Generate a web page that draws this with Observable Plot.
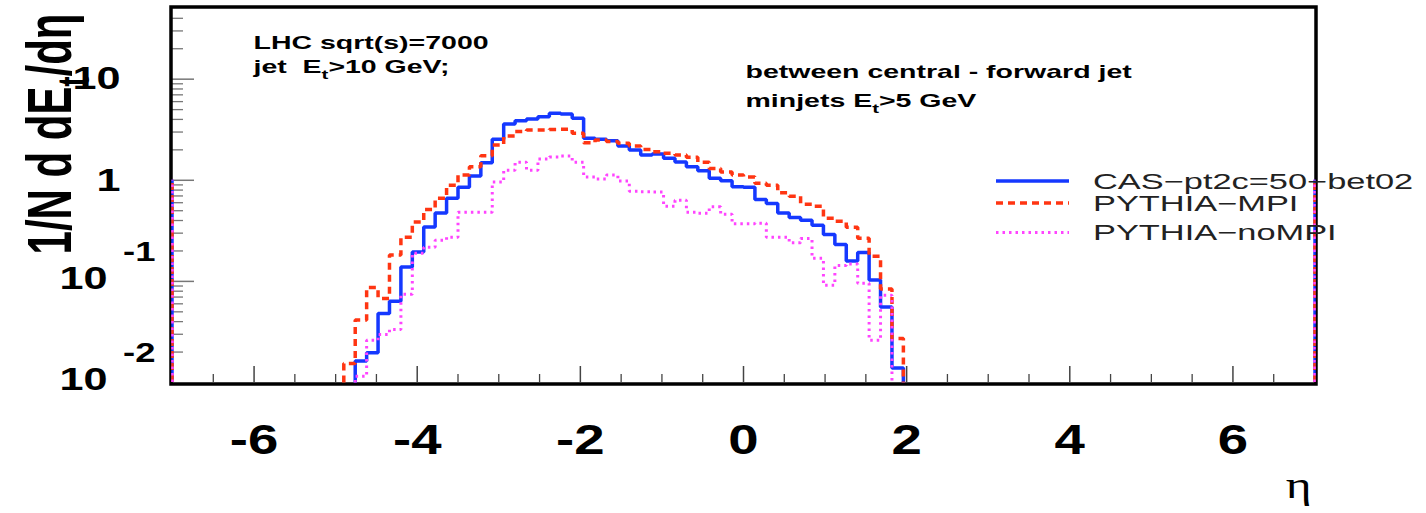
<!DOCTYPE html>
<html>
<head>
<meta charset="utf-8">
<script src="https://cdn.jsdelivr.net/npm/d3@7"></script>
<script src="https://cdn.jsdelivr.net/npm/@observablehq/plot@0.6"></script>
<style>
html, body { margin: 0; padding: 0; background: #fff; }
#wrap { position: relative; width: 1426px; height: 513px; overflow: hidden; }
</style>
</head>
<body>
<div id="wrap"></div>
<script>
// ---------------- data ----------------
// lower edges of the eta bins (bin width 0.14), last upper edge separately
const etaLow = [-4.90,-4.76,-4.62,-4.48,-4.34,-4.20,-4.06,-3.92,-3.78,-3.64,-3.50,-3.36,-3.22,-3.08,-2.94,-2.80,-2.66,-2.52,-2.38,-2.24,-2.10,-1.96,-1.82,-1.68,-1.54,-1.40,-1.26,-1.12,-0.98,-0.84,-0.70,-0.56,-0.42,-0.28,-0.14,0.00,0.14,0.28,0.42,0.56,0.70,0.84,0.98,1.12,1.26,1.40,1.54,1.68,1.82];
const etaLastHigh = 1.96;

const casPt2c = [null,0.0163,0.0197,0.048,0.0636,0.139,0.195,0.346,0.476,0.663,0.851,1.10,1.49,2.54,3.61,3.89,4.04,4.26,4.60,4.53,4.10,2.60,2.54,2.46,2.18,1.99,1.78,1.82,1.65,1.52,1.36,1.24,1.05,0.989,0.863,0.851,0.647,0.590,0.476,0.429,0.403,0.360,0.291,0.232,0.159,0.193,0.103,0.0557,0.0139];
const pythiaMPI = [0.0154,0.0416,0.0869,0.0679,0.182,0.274,0.386,0.515,0.663,0.895,1.13,1.36,1.75,2.23,2.74,3.03,3.14,3.14,3.18,3.19,2.92,2.35,2.50,2.42,2.32,2.18,2.02,1.92,1.85,1.78,1.69,1.51,1.31,1.21,1.13,1.08,0.932,0.895,0.752,0.697,0.581,0.555,0.422,0.394,0.344,0.267,0.177,0.0841,0.0273];
const pythiaNoMPI = [null,0.0115,0.0261,0.0299,0.0335,0.0745,0.190,0.218,0.255,0.274,0.484,0.484,0.484,0.960,1.26,1.51,1.26,1.62,1.70,1.74,1.51,1.08,1.03,1.13,0.982,0.781,0.772,0.764,0.555,0.636,0.484,0.473,0.546,0.462,0.372,0.372,0.376,0.274,0.274,0.241,0.266,0.169,0.0915,0.144,0.149,0.0958,0.0261,0.0728,null];

// value reached by every histogram at the outer frame edges
const edgeEta = [-7, 7];
const edgeTop = [1, 1];

const seriesNames = ["CAS\u2212pt2c=50\u2212bet02", "PYTHIA\u2212MPI", "PYTHIA\u2212noMPI"];
const seriesColors = ["#1538ff", "#ff3512", "#ff44ff"];
const seriesDash = [null, "7,5", "2.5,4"];
const seriesWidth = [3.5, 3.5, 3];

const xDomain = [-7, 7];
const yDomain = [0.01, 50];
const xTickLabels = [-6, -4, -2, 0, 2, 4, 6];
const xMajorTicks = [-6, -4, -2, 0, 2, 4, 6];
const xMinorTicks = [-6.5,-5.5,-5,-4.5,-3.5,-3,-2.5,-1.5,-1,-0.5,0.5,1,1.5,2.5,3,3.5,4.5,5,5.5,6.5];
const yMajorTicks = [0.1, 1, 10];
const yMinorTicks = [0.02,0.03,0.04,0.05,0.06,0.07,0.08,0.09,0.2,0.3,0.4,0.5,0.6,0.7,0.8,0.9,2,3,4,5,6,7,8,9,20,30,40];
const yPlainLabels = [{v: 10, t: "10"}, {v: 1, t: "1"}];
const yExpLabels = [{v: 0.1, base: "10", exp: "-1"}, {v: 0.01, base: "10", exp: "-2"}];

const yTitle = "1/N d dE_t/d\u03b7";
const xTitle = "\u03b7";
const textTopLeft = ["LHC sqrt(s)=7000", "jet  E_t>10 GeV;"];
const textTopRight = ["between central - forward jet", "minjets E_t>5 GeV"];

// ---------------- helpers ----------------
function stepPoints(vals) {
  let first = -1, last = -1;
  vals.forEach((v, i) => { if (v != null) { if (first < 0) first = i; last = i; } });
  const floor = yDomain[0];
  const pts = [{x: etaLow[first], y: floor}];
  for (let i = first; i <= last; i++) pts.push({x: etaLow[i], y: vals[i]});
  const right = last + 1 < etaLow.length ? etaLow[last + 1] : etaLastHigh;
  pts.push({x: right, y: vals[last]});
  pts.push({x: right, y: floor});
  return pts;
}
const seriesVals = [casPt2c, pythiaMPI, pythiaNoMPI];
const edges = edgeEta.map((e, i) => ({eta: e, top: edgeTop[i]}));

const FONT = "'Liberation Sans', Arial, Helvetica, sans-serif";
const W = 1426, H = 513;
const mL = 172, mR = 112, mT = 8, mB = 131;
const frameW = W - mL - mR, frameH = H - mT - mB;

const marks = [];
const textRoles = []; // role of each Plot.text mark, in order
function addText(data, opts, role) { marks.push(Plot.text(data, opts)); textRoles.push(role); }

// ticks (inside the frame)
marks.push(Plot.ruleX(xMinorTicks, {x: d => d, stroke: "#444", strokeWidth: 1.3, insetTop: frameH - 8}));
marks.push(Plot.ruleX(xMajorTicks, {x: d => d, stroke: "#444", strokeWidth: 1.5, insetTop: frameH - 16}));
marks.push(Plot.ruleY(yMinorTicks, {y: d => d, stroke: "#777", strokeWidth: 1.3, insetRight: frameW - 11}));
marks.push(Plot.ruleY(yMajorTicks, {y: d => d, stroke: "#777", strokeWidth: 1.5, insetRight: frameW - 22}));
marks.push(Plot.frame({stroke: "black", strokeWidth: 3.5, inset: -1.5}));
// histograms
seriesVals.forEach((vals, k) => {
  marks.push(Plot.ruleX(edges, {x: "eta", y1: yDomain[0], y2: "top", stroke: seriesColors[k], strokeWidth: 2.5, strokeDasharray: seriesDash[k]}));
});
seriesVals.forEach((vals, k) => {
  marks.push(Plot.line(stepPoints(vals), {x: "x", y: "y", curve: "step-after", stroke: seriesColors[k], strokeWidth: seriesWidth[k], strokeDasharray: seriesDash[k], strokeLinejoin: "miter", strokeLinecap: "butt"}));
});
// axis labels
addText(xTickLabels, {x: d => d, text: d => String(d), frameAnchor: "bottom", dy: 58, lineAnchor: "middle", textAnchor: "middle", fontSize: 42, fontWeight: "bold", fill: "black"}, "xlab");
addText(yPlainLabels, {y: "v", text: "t", frameAnchor: "left", dx: -52, dy: 0, lineAnchor: "middle", textAnchor: "end", fontSize: 32, fontWeight: "bold", fill: "black"}, "ylab");
addText(yExpLabels, {y: "v", text: "base", frameAnchor: "left", dx: -65, dy: -3, lineAnchor: "middle", textAnchor: "end", fontSize: 32, fontWeight: "bold", fill: "black"}, "ylab");
addText(yExpLabels, {y: "v", text: "exp", frameAnchor: "left", dx: -17, dy: -29, lineAnchor: "middle", textAnchor: "end", fontSize: 27, fontWeight: "bold", fill: "black"}, "ylab");
addText([yTitle], {text: d => d, frameAnchor: "top-left", dx: -102, dy: 5, rotate: -90, textAnchor: "end", lineAnchor: "bottom", fontSize: 42, fontWeight: "bold", fill: "black"}, "ytitle");
addText([xTitle], {text: d => d, frameAnchor: "bottom-right", dx: -3, dy: 115, textAnchor: "end", lineAnchor: "bottom", fontSize: 38, fontFamily: "'Liberation Serif', 'DejaVu Serif', serif", fill: "black"}, "xtitle");
// annotations
addText([textTopLeft[0]], {text: d => d, frameAnchor: "top-left", dx: 81, dy: 40.5, textAnchor: "start", lineAnchor: "bottom", fontSize: 18.5, fontWeight: "bold", fill: "black"}, "annot");
addText([textTopLeft[1]], {text: d => d, frameAnchor: "top-left", dx: 81, dy: 64.7, textAnchor: "start", lineAnchor: "bottom", fontSize: 18.5, fontWeight: "bold", fill: "black"}, "annot");
addText([textTopRight[0]], {text: d => d, frameAnchor: "top-left", dx: 573, dy: 69.7, textAnchor: "start", lineAnchor: "bottom", fontSize: 18.5, fontWeight: "bold", fill: "black"}, "annot");
addText([textTopRight[1]], {text: d => d, frameAnchor: "top-left", dx: 573, dy: 98.7, textAnchor: "start", lineAnchor: "bottom", fontSize: 18.5, fontWeight: "bold", fill: "black"}, "annot");

const svg = Plot.plot({
  width: W, height: H,
  marginLeft: mL, marginRight: mR, marginTop: mT, marginBottom: mB,
  x: {domain: xDomain, axis: null},
  y: {type: "log", domain: yDomain, axis: null},
  style: {fontFamily: FONT, background: "white", overflow: "visible"},
  marks
});

// ---------------- post-processing of text (stretch + subscripts) ----------------
const textGroups = Array.from(svg.querySelectorAll('g[aria-label="text"]'));
textGroups.forEach((g, i) => { if (textRoles[i]) g.setAttribute("data-role", textRoles[i]); });

function textsOf(role) { return Array.from(svg.querySelectorAll(`g[data-role="${role}"] text`)); }
function stretch(role, sx, sy) {
  textsOf(role).forEach(t => {
    const tr = t.getAttribute("transform");
    if (tr) t.setAttribute("transform", `${tr} scale(${sx},${sy})`);
    else {
      const x = +t.getAttribute("x") || 0;
      t.setAttribute("transform", `translate(${x},0) scale(${sx},${sy}) translate(${-x},0)`);
    }
  });
}
function subscripts(role, fs) {
  textsOf(role).forEach(t => {
    const s = t.textContent;
    if (!s.includes("_t")) return;
    const [a, b] = s.split("_t");
    t.textContent = "";
    const ns = "http://www.w3.org/2000/svg";
    const t1 = document.createElementNS(ns, "tspan"); t1.textContent = a; t.appendChild(t1);
    const t2 = document.createElementNS(ns, "tspan"); t2.textContent = "t"; t2.setAttribute("dy", (0.3 * fs).toFixed(1)); t2.setAttribute("font-size", (0.72 * fs).toFixed(1)); t.appendChild(t2);
    const t3 = document.createElementNS(ns, "tspan"); t3.textContent = b; t3.setAttribute("dy", (-0.3 * fs).toFixed(1)); t.appendChild(t3);
  });
}
textsOf("annot").forEach(t => t.style.whiteSpace = "pre");
subscripts("annot", 18.5);
subscripts("ytitle", 42);
stretch("annot", 1.54, 1);
stretch("xlab", 1.3, 1);
stretch("ylab", 1.35, 1);
stretch("ytitle", 1, 1.5);
stretch("xtitle", 1.3, 1);

const wrap = document.getElementById("wrap");
wrap.appendChild(svg);

// ---------------- legend (overlay) ----------------
const legendRowY = [181, 203, 232.5];
const lg = d3.create("svg")
  .attr("width", W).attr("height", H)
  .style("position", "absolute").style("left", "0px").style("top", "0px")
  .style("pointer-events", "none");
seriesNames.forEach((name, k) => {
  const y = legendRowY[k];
  lg.append("line").attr("x1", 996).attr("x2", 1069).attr("y1", y).attr("y2", y)
    .attr("stroke", seriesColors[k]).attr("stroke-width", seriesWidth[k])
    .attr("stroke-dasharray", seriesDash[k]);
  lg.append("text").attr("transform", `translate(1093,${y + 7.8}) scale(1.6,1)`)
    .attr("font-family", FONT).attr("font-size", 21.5).attr("fill", "#222")
    .text(name);
});
wrap.appendChild(lg.node());
</script>
</body>
</html>
